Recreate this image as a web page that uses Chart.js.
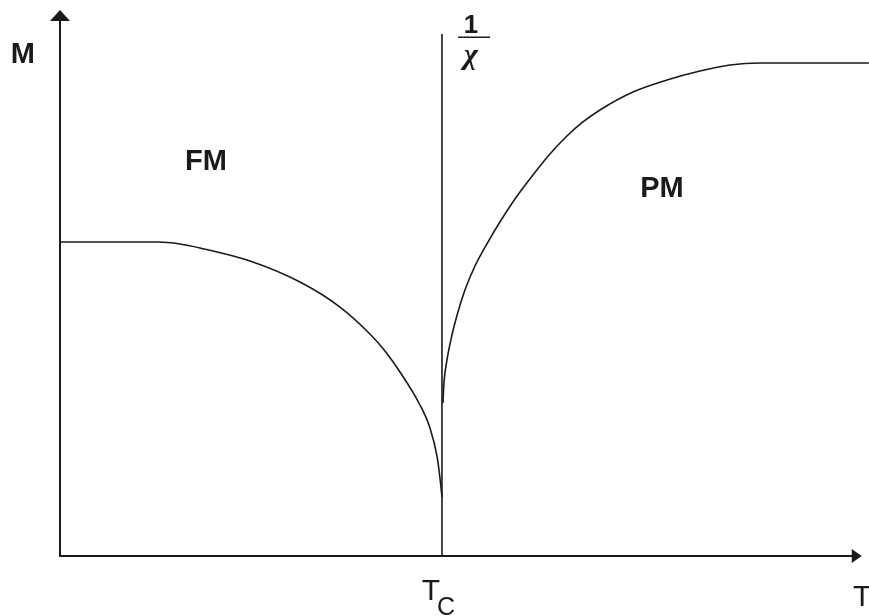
<!DOCTYPE html>
<html>
<head>
<meta charset="utf-8">
<script src="https://cdn.jsdelivr.net/npm/chart.js@4.4.1/dist/chart.umd.min.js"></script>
<style>
  html, body { margin: 0; padding: 0; background: #fff; }
  #wrap { width: 869px; height: 616px; }
</style>
</head>
<body>
<div id="wrap"><canvas id="c" width="869" height="616"></canvas></div>
<script>
// Temperature in units of Tc, magnetisation / inverse susceptibility normalised
const fmT = [0, 0.2565, 0.3141, 0.3665, 0.4974, 0.6283, 0.7330, 0.8115, 0.8508, 0.8901, 0.9424, 0.9686, 0.9869, 0.9948, 1.0];
const fmM = [0.5647, 0.5647, 0.5612, 0.5540, 0.5306, 0.4928, 0.4478, 0.3993, 0.3687, 0.3309, 0.2716, 0.2302, 0.1799, 0.1403, 0.1061];
const pmT = [1.0026, 1.0052, 1.0131, 1.0262, 1.0419, 1.0602, 1.0864, 1.1204, 1.1518, 1.1911, 1.2382, 1.2827, 1.3272, 1.3691, 1.4136, 1.5000, 1.5890, 1.6754, 1.7539, 1.8325, 2.1178];
const pmInvChi = [0.2752, 0.3112, 0.3525, 0.3975, 0.4388, 0.4784, 0.5216, 0.5647, 0.6007, 0.6421, 0.6853, 0.7230, 0.7554, 0.7806, 0.8022, 0.8345, 0.8561, 0.8723, 0.8831, 0.8867, 0.8867];
const tc = 1.0;
const tMax = 2.118;
const yMax = 1.0;
const tcLineTop = 0.939;
const yAxisTop = 0.982;
const xAxisEnd = 2.099;

const toPts = (xs, ys) => xs.map((x, i) => ({ x: x, y: ys[i] }));

const ink = '#1a1a1a';

const decor = {
  id: 'decor',
  afterDatasetsDraw(chart) {
    const ctx = chart.ctx;
    const xs = chart.scales.x, ys = chart.scales.y;
    const x0 = xs.getPixelForValue(0), y0 = ys.getPixelForValue(0);
    const yTop = ys.getPixelForValue(yAxisTop);
    const xEnd = xs.getPixelForValue(xAxisEnd);
    const xTc = xs.getPixelForValue(tc);
    ctx.save();
    ctx.strokeStyle = ink;
    ctx.fillStyle = ink;
    // axes
    ctx.lineWidth = 2;
    ctx.beginPath();
    ctx.moveTo(x0, yTop + 8);
    ctx.lineTo(x0, y0);
    ctx.lineTo(xEnd - 8, y0);
    ctx.stroke();
    // arrowheads
    ctx.beginPath();
    ctx.moveTo(x0, yTop);
    ctx.lineTo(x0 - 10, yTop + 11);
    ctx.lineTo(x0 + 10, yTop + 11);
    ctx.closePath();
    ctx.fill();
    ctx.beginPath();
    ctx.moveTo(xEnd, y0);
    ctx.lineTo(xEnd - 10, y0 - 7);
    ctx.lineTo(xEnd - 10, y0 + 7);
    ctx.closePath();
    ctx.fill();
    // Tc vertical line
    ctx.lineWidth = 1.6;
    ctx.beginPath();
    ctx.moveTo(xTc, ys.getPixelForValue(tcLineTop));
    ctx.lineTo(xTc, y0);
    ctx.stroke();

    // labels
    ctx.textAlign = 'center';
    ctx.textBaseline = 'alphabetic';
    ctx.font = 'bold 29px "Liberation Sans", Arial, sans-serif';
    ctx.fillText('M', xs.getPixelForValue(-0.097), ys.getPixelForValue(0.906) + 11);
    ctx.fillText('FM', xs.getPixelForValue(0.382), ys.getPixelForValue(0.714) + 11);
    ctx.fillText('PM', xs.getPixelForValue(1.576), ys.getPixelForValue(0.665) + 11);

    // 1/chi fraction
    ctx.font = 'bold 26px "Liberation Sans", Arial, sans-serif';
    ctx.fillText('1', xs.getPixelForValue(1.076), ys.getPixelForValue(0.957) + 9);
    ctx.lineWidth = 1.6;
    ctx.beginPath();
    ctx.moveTo(xs.getPixelForValue(1.042), ys.getPixelForValue(0.933));
    ctx.lineTo(xs.getPixelForValue(1.126), ys.getPixelForValue(0.933));
    ctx.stroke();
    ctx.font = 'italic bold 30px "Liberation Serif", "DejaVu Serif", serif';
    ctx.fillText('\u03C7', xs.getPixelForValue(1.076), ys.getPixelForValue(0.894) + 5);

    // Tc and T axis labels
    ctx.font = '30px "Liberation Sans", Arial, sans-serif';
    ctx.textAlign = 'center';
    ctx.fillText('T', xTc - 11, y0 + 44);
    ctx.font = '25px "Liberation Sans", Arial, sans-serif';
    ctx.textAlign = 'left';
    ctx.fillText('C', xTc - 5, y0 + 59);
    ctx.font = '30px "Liberation Sans", Arial, sans-serif';
    ctx.fillText('T', xs.getPixelForValue(2.076), y0 + 50);
    ctx.restore();
  }
};

new Chart(document.getElementById('c'), {
  type: 'line',
  data: {
    datasets: [
      { label: 'M (FM)', data: toPts(fmT, fmM), borderColor: ink, borderWidth: 1.6, pointRadius: 0, cubicInterpolationMode: 'monotone', fill: false },
      { label: '1/\u03C7 (PM)', data: toPts(pmT, pmInvChi), borderColor: ink, borderWidth: 1.6, pointRadius: 0, cubicInterpolationMode: 'monotone', fill: false }
    ]
  },
  options: {
    responsive: false,
    animation: false,
    layout: { padding: { left: 60, right: 0, top: 0, bottom: 60 } },
    plugins: { legend: { display: false }, tooltip: { enabled: false } },
    scales: {
      x: { type: 'linear', min: 0, max: tMax, display: false },
      y: { type: 'linear', min: 0, max: yMax, display: false }
    }
  },
  plugins: [decor]
});
</script>
</body>
</html>
